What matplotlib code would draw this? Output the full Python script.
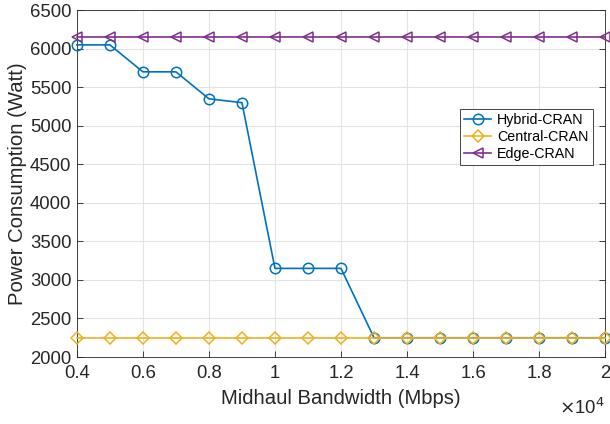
import matplotlib.pyplot as plt
import numpy as np

plt.rcParams['font.family'] = ['Liberation Sans', 'DejaVu Sans']

BANDWIDTH = [4000, 5000, 6000, 7000, 8000, 9000, 10000, 11000, 12000,
             13000, 14000, 15000, 16000, 17000, 18000, 19000, 20000]
HYBRID = [6050, 6050, 5700, 5700, 5350, 5300, 3150, 3150, 3150,
          2250, 2250, 2250, 2250, 2250, 2250, 2250, 2250]
CENTRAL = [2250] * 17
EDGE = [6150] * 17
X_TICKS = [0.4, 0.6, 0.8, 1, 1.2, 1.4, 1.6, 1.8, 2]
X_TICK_LABELS = ['0.4', '0.6', '0.8', '1', '1.2', '1.4', '1.6', '1.8', '2']
Y_TICKS = [2000, 2500, 3000, 3500, 4000, 4500, 5000, 5500, 6000, 6500]

AX_COLOR = '#262626'

fig = plt.figure(figsize=(6.1, 4.24), dpi=100)
ax = fig.add_axes([0.126, 0.158, 0.866, 0.818])

x = np.array(BANDWIDTH) / 1e4
ax.plot(x, HYBRID, color='#0072BD', marker='o', markersize=7.5,
        markerfacecolor='none', markeredgewidth=1.1, linewidth=1.2,
        label='Hybrid-CRAN', clip_on=False, zorder=3)
ax.plot(x, CENTRAL, color='#EDB120', marker='D', markersize=6.5,
        markerfacecolor='none', markeredgewidth=1.1, linewidth=1.2,
        label='Central-CRAN', clip_on=False, zorder=4)
ax.plot(x, EDGE, color='#7E2F8E', marker='<', markersize=7.5,
        markerfacecolor='none', markeredgewidth=1.1, linewidth=1.2,
        label='Edge-CRAN', clip_on=False, zorder=3)

ax.set_xlim(0.4, 2)
ax.set_ylim(2000, 6500)
ax.set_xticks(X_TICKS)
ax.set_xticklabels(X_TICK_LABELS)
ax.set_yticks(Y_TICKS)
ax.grid(True, color='#E3E3E3', linewidth=0.8)
ax.set_axisbelow(True)
ax.tick_params(direction='in', length=4, width=0.6, colors=AX_COLOR,
               labelsize=13.3, top=False, right=True)
ax.tick_params(axis='y', pad=4)
ax.tick_params(axis='x', pad=6)
for s in ax.spines.values():
    s.set_color(AX_COLOR)
    s.set_linewidth(0.6)

ax.set_xlabel('Midhaul Bandwidth (Mbps)', fontsize=14.6, color=AX_COLOR,
              labelpad=5)
ax.set_ylabel('Power Consumption (Watt)', fontsize=14.6, color=AX_COLOR,
              labelpad=2)
ax.text(1.0, -0.118, r'$\times$10$^{4}$', transform=ax.transAxes,
        ha='right', va='top', fontsize=13.3, color=AX_COLOR)

leg = ax.legend(loc='upper left', bbox_to_anchor=(0.725, 0.715),
                fontsize=10.3, fancybox=False, framealpha=1,
                edgecolor=AX_COLOR, handlelength=1.9, borderpad=0.3,
                labelspacing=0.2, handletextpad=0.4, borderaxespad=0)
leg.get_frame().set_linewidth(0.6)

fig.savefig('out.png', dpi=100)
